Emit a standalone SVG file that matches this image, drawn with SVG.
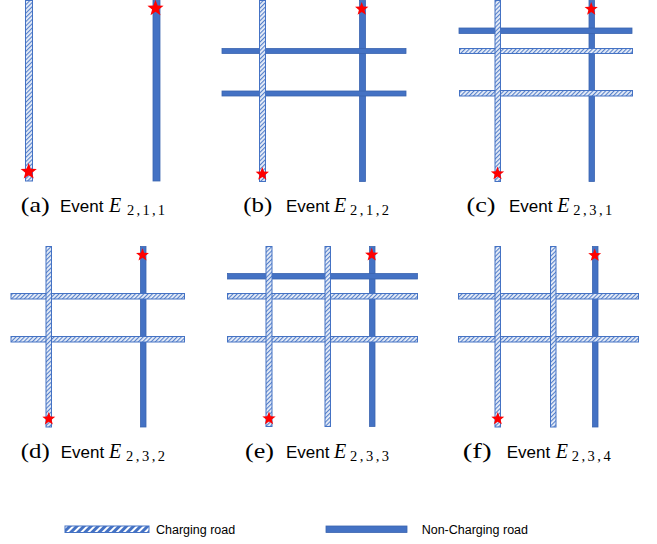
<svg xmlns="http://www.w3.org/2000/svg" xmlns:xlink="http://www.w3.org/1999/xlink" width="657" height="544" viewBox="0 0 657 544">
<style>
.solid{fill:#4472C4;stroke:#3A64B0;stroke-width:0.8}
.hatch{fill:url(#hatch);stroke:#4472C4;stroke-width:1}
.hatchL{fill:url(#hatchL);stroke:#4472C4;stroke-width:1}
.star{fill:#FF0000}
.lbl{font-family:"Liberation Serif",serif;font-size:21px;fill:#000}
.ev{font-family:"Liberation Sans",Arial,sans-serif;font-size:17px;fill:#000}
.E{font-family:"Liberation Serif",serif;font-style:italic;font-size:20px;fill:#000}
.sub{font-family:"Liberation Serif",serif;font-size:14.5px;fill:#000}
.leg{font-family:"Liberation Sans",Arial,sans-serif;font-size:12.5px;fill:#000}
</style>
<defs>
<pattern id="hatch" patternUnits="userSpaceOnUse" width="3" height="3" patternTransform="rotate(45)">
<rect width="3" height="3" fill="#E8EEF8"/>
<rect width="1.1" height="3" fill="#5580CA"/>
</pattern>
<pattern id="hatchL" patternUnits="userSpaceOnUse" width="5" height="5" patternTransform="rotate(45)">
<rect width="5" height="5" fill="#FFFFFF"/>
<rect width="3" height="5" fill="#4472C4"/>
</pattern>
<path id="star" d="M0,-10 L2.469,-3.398 L9.511,-3.090 L3.994,1.298 L5.878,8.090 L0,4.2 L-5.878,8.090 L-3.994,1.298 L-9.511,-3.090 L-2.469,-3.398 Z"/>
</defs>

<g id="connectors"></g>

<g id="panel-a">
<rect class="hatch" x="25.5" y="0.5" width="7" height="180.5"/>
<rect class="solid" x="153" y="0.5" width="7" height="180.5"/>
<use href="#star" class="star" transform="translate(155.5,8.3) scale(0.85)"/>
<use href="#star" class="star" transform="translate(28.7,171.6) scale(0.85)"/>
<text class="lbl" x="20.7" y="211.5" textLength="29" lengthAdjust="spacingAndGlyphs">(a)</text>
<text class="ev" x="60" y="211.5">Event</text>
<text class="E" x="109" y="211.5">E</text>
<text class="sub" x="127" y="214.5" textLength="38" lengthAdjust="spacing">2,1,1</text>
</g>

<g id="panel-b">
<rect class="solid" x="359.5" y="0.5" width="6" height="181"/>
<rect class="solid" x="222" y="48.5" width="184" height="5"/>
<rect class="solid" x="222" y="91" width="184" height="5"/>
<rect class="hatch" x="259.5" y="0.5" width="6" height="181"/>
<use href="#star" class="star" transform="translate(361.7,9) scale(0.7)"/>
<use href="#star" class="star" transform="translate(262.3,174) scale(0.7)"/>
<text class="lbl" x="243.3" y="211.5" textLength="29" lengthAdjust="spacingAndGlyphs">(b)</text>
<text class="ev" x="286" y="211.5">Event</text>
<text class="E" x="334" y="211.5">E</text>
<text class="sub" x="350" y="214.5" textLength="39" lengthAdjust="spacing">2,1,2</text>
</g>

<g id="panel-c">
<rect class="solid" x="589" y="0.5" width="5.5" height="181"/>
<rect class="solid" x="459" y="28" width="173" height="5.5"/>
<rect class="hatch" x="459.5" y="48.5" width="173" height="5"/>
<rect class="hatch" x="459.5" y="90.5" width="173" height="5.5"/>
<rect class="hatch" x="495" y="0.5" width="5.5" height="181"/>
<use href="#star" class="star" transform="translate(591.2,9.1) scale(0.7)"/>
<use href="#star" class="star" transform="translate(497.5,173.6) scale(0.7)"/>
<text class="lbl" x="466.5" y="211.5" textLength="29" lengthAdjust="spacingAndGlyphs">(c)</text>
<text class="ev" x="509" y="211.5">Event</text>
<text class="E" x="557.3" y="211.5">E</text>
<text class="sub" x="573.3" y="214.5" textLength="39" lengthAdjust="spacing">2,3,1</text>
</g>

<g id="panel-d">
<rect class="solid" x="140.5" y="246.5" width="5.5" height="180.5"/>
<rect class="hatch" x="11" y="293.5" width="173.5" height="5.5"/>
<rect class="hatch" x="11" y="336.5" width="173.5" height="5.5"/>
<rect class="hatch" x="46" y="246.5" width="5.5" height="180.5"/>
<use href="#star" class="star" transform="translate(142.5,255) scale(0.68)"/>
<use href="#star" class="star" transform="translate(48.8,418.9) scale(0.68)"/>
<text class="lbl" x="20.7" y="458" textLength="29" lengthAdjust="spacingAndGlyphs">(d)</text>
<text class="ev" x="60.7" y="458">Event</text>
<text class="E" x="109" y="458">E</text>
<text class="sub" x="126" y="461" textLength="39" lengthAdjust="spacing">2,3,2</text>
</g>

<g id="panel-e">
<rect class="solid" x="369.5" y="246.5" width="5.5" height="180"/>
<rect class="solid" x="227.5" y="273.5" width="190" height="5.5"/>
<rect class="hatch" x="227.5" y="293.5" width="190" height="5.5"/>
<rect class="hatch" x="227.5" y="336.5" width="190" height="5.5"/>
<rect class="hatch" x="266" y="246.5" width="6" height="180"/>
<rect class="hatch" x="325" y="246.5" width="5.5" height="180"/>
<use href="#star" class="star" transform="translate(371.7,254.8) scale(0.7)"/>
<use href="#star" class="star" transform="translate(269,418.6) scale(0.7)"/>
<text class="lbl" x="245" y="458" textLength="29" lengthAdjust="spacingAndGlyphs">(e)</text>
<text class="ev" x="286" y="458">Event</text>
<text class="E" x="334" y="458">E</text>
<text class="sub" x="350" y="461" textLength="39" lengthAdjust="spacing">2,3,3</text>
</g>

<g id="panel-f">
<rect class="solid" x="592.5" y="246.5" width="5.5" height="180.5"/>
<rect class="hatch" x="458.5" y="293.5" width="180" height="5.5"/>
<rect class="hatch" x="458.5" y="336.5" width="180" height="5.5"/>
<rect class="hatch" x="495" y="246.5" width="5.5" height="180.5"/>
<rect class="hatch" x="550.5" y="246.5" width="5.5" height="180.5"/>
<use href="#star" class="star" transform="translate(594.7,255.3) scale(0.68)"/>
<use href="#star" class="star" transform="translate(497.8,418.8) scale(0.68)"/>
<text class="lbl" x="462.7" y="458" textLength="29" lengthAdjust="spacingAndGlyphs">(f)</text>
<text class="ev" x="506.7" y="458">Event</text>
<text class="E" x="555.7" y="458">E</text>
<text class="sub" x="571.7" y="461" textLength="39" lengthAdjust="spacing">2,3,4</text>
</g>

<g id="legend">
<rect class="hatchL" x="65" y="526" width="84" height="6.5"/>
<text class="leg" x="156" y="534">Charging road</text>
<rect class="solid" x="326" y="526" width="81" height="6.5"/>
<text class="leg" x="421.7" y="534">Non-Charging road</text>
</g>
</svg>
